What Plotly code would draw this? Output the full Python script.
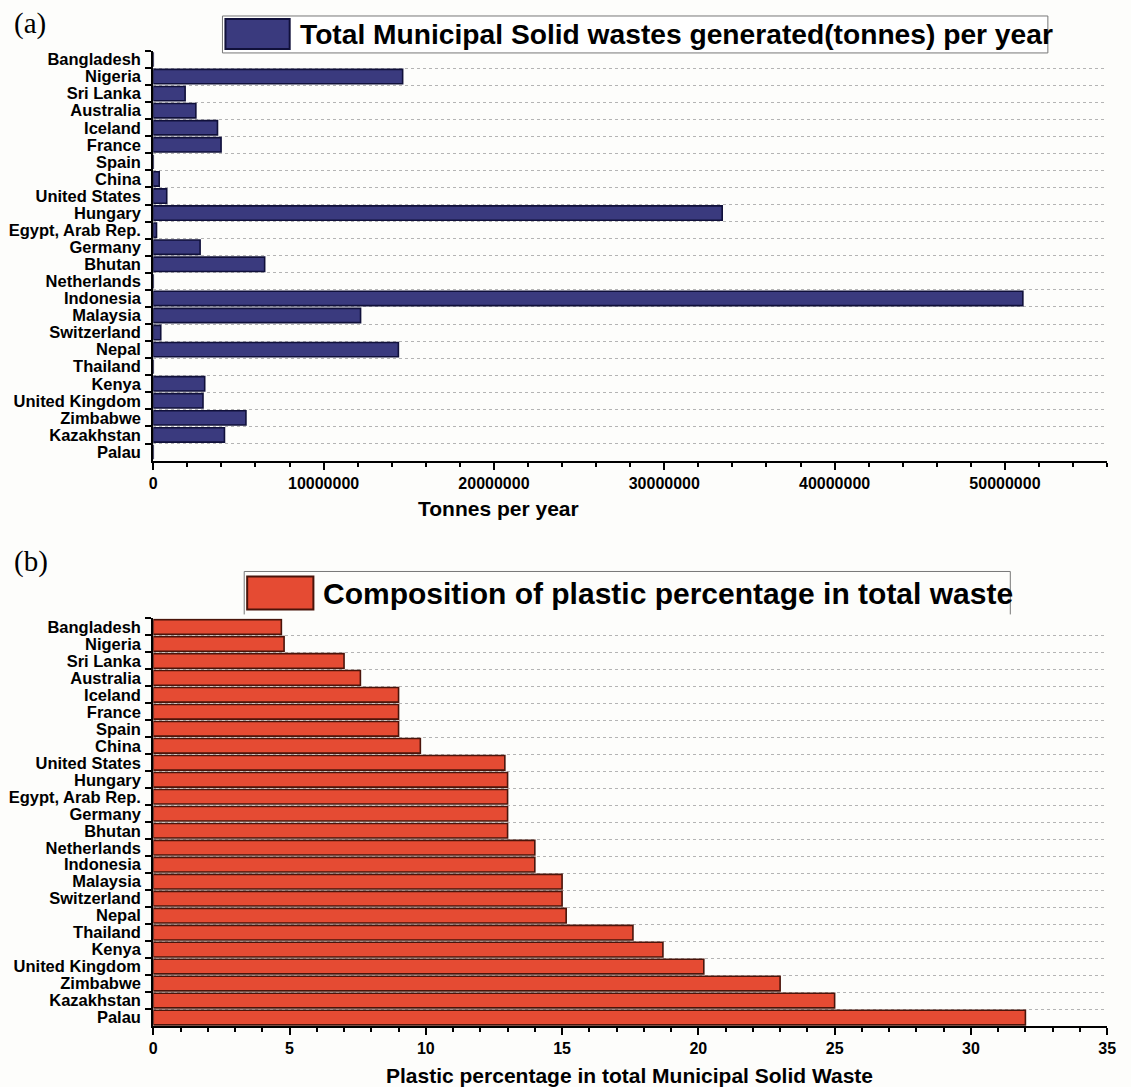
import plotly.graph_objects as go

# ---- data -------------------------------------------------------------
countries = [
    "Bangladesh", "Nigeria", "Sri Lanka", "Australia", "Iceland", "France",
    "Spain", "China", "United States", "Hungary", "Egypt, Arab Rep.",
    "Germany", "Bhutan", "Netherlands", "Indonesia", "Malaysia",
    "Switzerland", "Nepal", "Thailand", "Kenya", "United Kingdom",
    "Zimbabwe", "Kazakhstan", "Palau",
]

# total municipal solid waste generated, tonnes per year
msw_tonnes = [
    0, 14.64e6, 1.87e6, 2.5e6, 3.77e6, 3.98e6,
    0, 0.35e6, 0.79e6, 33.4e6, 0.19e6,
    2.75e6, 6.54e6, 0, 51.05e6, 12.17e6,
    0.44e6, 14.39e6, 0, 3.02e6, 2.92e6,
    5.44e6, 4.18e6, 0,
]

# plastic share of total municipal solid waste, %
plastic_pct = [
    4.7, 4.8, 7.0, 7.6, 9.0, 9.0,
    9.0, 9.8, 12.9, 13.0, 13.0,
    13.0, 13.0, 14.0, 14.0, 15.0,
    15.0, 15.15, 17.6, 18.7, 20.2,
    23.0, 25.0, 32.0,
]

legend_a = "Total Municipal Solid wastes generated(tonnes) per year"
legend_b = "Composition of plastic percentage in total waste"
xtitle_a = "Tonnes per year"
xtitle_b = "Plastic percentage in total Municipal Solid Waste"

# ---- styling ----------------------------------------------------------
W, H = 1131, 1087
SANS = "Liberation Sans, Arial, Helvetica, sans-serif"
SERIF = "Liberation Serif, Times New Roman, serif"
BG = "#fdfdfb"
NAVY, NAVY_EDGE = "#3a3a7e", "#10103a"
RED, RED_EDGE = "#e54b33", "#4a140a"
GRID = "#b4b4b4"


def fx(p):
    return p / W


def fy(p):
    return 1 - p / H


fig = go.Figure()

fig.add_trace(go.Bar(
    y=countries, x=msw_tonnes, orientation="h", width=0.84,
    marker=dict(color=NAVY, line=dict(color=NAVY_EDGE, width=1.6)),
    xaxis="x", yaxis="y", showlegend=False, name=legend_a,
))
fig.add_trace(go.Bar(
    y=countries, x=plastic_pct, orientation="h", width=0.86,
    marker=dict(color=RED, line=dict(color=RED_EDGE, width=1.6)),
    xaxis="x2", yaxis="y2", showlegend=False, name=legend_b,
))

tick_font = dict(family=SANS, size=16, color="black", weight="bold")
cat_font = dict(family=SANS, size=16.5, color="black", weight="bold")


def x_axis(anchor, rng, major, minor):
    return dict(
        domain=[fx(151), fx(1116)], anchor=anchor, range=rng,
        tick0=0, dtick=major, tickformat="d",
        ticks="outside", ticklen=7, tickwidth=2, tickcolor="black",
        showline=True, linewidth=2, linecolor="black",
        showgrid=False, zeroline=False, tickfont=tick_font,
        minor=dict(dtick=minor, tick0=0, ticks="outside", ticklen=4,
                   tickwidth=1.5, tickcolor="black", showgrid=False),
        fixedrange=True,
    )


def y_axis(anchor, top, bottom):
    return dict(
        domain=[fy(bottom), fy(top)], anchor=anchor,
        type="category", categoryorder="array", categoryarray=countries,
        autorange="reversed", tickson="boundaries",
        tickmode="linear", tick0=0, dtick=1,
        ticks="outside", ticklen=6, tickwidth=2, tickcolor="black",
        ticklabelstandoff=7,
        showline=True, linewidth=2, linecolor="black",
        showgrid=True, gridcolor=GRID, griddash="dot", gridwidth=1,
        zeroline=False, tickfont=cat_font, fixedrange=True,
    )


fig.update_layout(
    width=W, height=H,
    margin=dict(l=0, r=0, t=0, b=0),
    paper_bgcolor=BG, plot_bgcolor=BG,
    xaxis=x_axis("y", [0, 56e6], 1e7, 2e6),
    yaxis=y_axis("x", 50, 460),
    xaxis2=x_axis("y2", [0, 35], 5, 1),
    yaxis2=y_axis("x2", 618, 1026),
)

# ---- legend boxes drawn as shapes --------------------------------------
shapes = [
    # panel (a) legend frame and swatch
    dict(type="rect", xref="paper", yref="paper",
         x0=fx(221), x1=fx(1056), y0=fy(52), y1=fy(15),
         line=dict(color="#777777", width=1), fillcolor="white", layer="above"),
    dict(type="rect", xref="paper", yref="paper",
         x0=fx(224), x1=fx(289), y0=fy(48), y1=fy(18),
         line=dict(color=NAVY_EDGE, width=2), fillcolor=NAVY, layer="above"),
    # panel (b) legend frame (open at the bottom) and swatch
    dict(type="path", xref="paper", yref="paper",
         path=f"M {fx(243)},{fy(614)} L {fx(243)},{fy(571)} "
              f"L {fx(1018)},{fy(571)} L {fx(1018)},{fy(614)}",
         line=dict(color="#777777", width=1), layer="above"),
    dict(type="rect", xref="paper", yref="paper",
         x0=fx(246), x1=fx(313), y0=fy(609), y1=fy(576),
         line=dict(color=RED_EDGE, width=2), fillcolor=RED, layer="above"),
]
fig.update_layout(shapes=shapes)

annotations = [
    dict(text=legend_a, x=fx(297), y=fy(33.5), xanchor="left", yanchor="middle",
         font=dict(family=SANS, size=28.2, color="black", weight="bold")),
    dict(text=legend_b, x=fx(321), y=fy(593), xanchor="left", yanchor="middle",
         font=dict(family=SANS, size=30, color="black", weight="bold")),
    dict(text=xtitle_a, x=fx(500), y=fy(508), xanchor="center", yanchor="middle",
         font=dict(family=SANS, size=21, color="black", weight="bold")),
    dict(text=xtitle_b, x=fx(633), y=fy(1075), xanchor="center", yanchor="middle",
         font=dict(family=SANS, size=21, color="black", weight="bold")),
    dict(text="(a)", x=fx(26), y=fy(23), xanchor="center", yanchor="middle",
         font=dict(family=SERIF, size=29, color="black")),
    dict(text="(b)", x=fx(27), y=fy(561), xanchor="center", yanchor="middle",
         font=dict(family=SERIF, size=29, color="black")),
]
for a in annotations:
    a.update(xref="paper", yref="paper", showarrow=False)
fig.update_layout(annotations=annotations)

fig.write_html("out.html")
